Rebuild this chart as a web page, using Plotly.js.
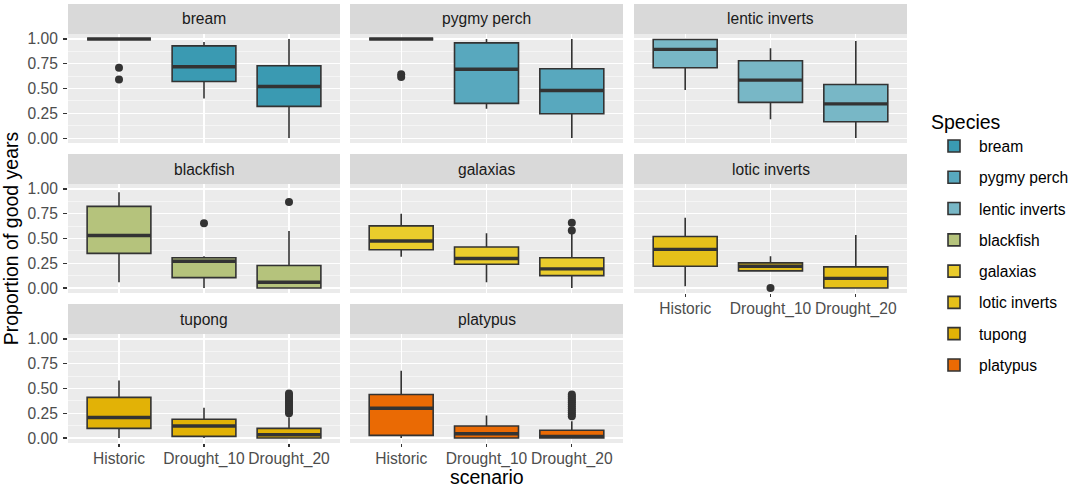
<!DOCTYPE html>
<html>
<head>
<meta charset="utf-8">
<script src="https://cdn.plot.ly/plotly-3.0.1.min.js"></script>
<style>
  html, body { margin: 0; padding: 0; background: #ffffff; }
  #chart { width: 1072px; height: 489px; }
</style>
</head>
<body>
<div id="chart"></div>
<script>
// ---------------- data ----------------
const species = ['bream', 'pygmy perch', 'lentic inverts', 'blackfish', 'galaxias', 'lotic inverts', 'tupong', 'platypus'];
const scenarios = ['Historic', 'Drought_10', 'Drought_20'];
const xTitle = 'scenario';
const yTitle = 'Proportion of good years';
const legendTitle = 'Species';

// box statistics per species, in the order Historic, Drought_10, Drought_20
const lowerWhisker = [
  [1.00, 0.40, 0.00],
  [1.00, 0.295, 0.00],
  [0.485, 0.19, 0.00],
  [0.058, 0.00, 0.00],
  [0.315, 0.058, 0.00],
  [0.017, 0.173, 0.00],
  [0.00, 0.00, 0.00],
  [0.00, 0.00, 0.00]
];
const lowerQuartile = [
  [1.00, 0.57, 0.32],
  [1.00, 0.35, 0.245],
  [0.71, 0.36, 0.165],
  [0.35, 0.105, 0.00],
  [0.386, 0.24, 0.125],
  [0.22, 0.173, 0.00],
  [0.098, 0.017, 0.00],
  [0.027, 0.00, 0.00]
];
const medianValue = [
  [1.00, 0.72, 0.52],
  [1.00, 0.695, 0.48],
  [0.895, 0.585, 0.345],
  [0.53, 0.27, 0.058],
  [0.475, 0.298, 0.193],
  [0.39, 0.22, 0.098],
  [0.207, 0.122, 0.034],
  [0.30, 0.044, 0.017]
];
const upperQuartile = [
  [1.00, 0.93, 0.73],
  [1.00, 0.96, 0.70],
  [0.995, 0.78, 0.54],
  [0.824, 0.305, 0.227],
  [0.627, 0.414, 0.305],
  [0.52, 0.254, 0.214],
  [0.41, 0.19, 0.098],
  [0.44, 0.122, 0.078]
];
const upperWhisker = [
  [1.00, 0.97, 1.00],
  [1.00, 1.00, 1.00],
  [1.00, 0.905, 0.98],
  [0.966, 0.32, 0.576],
  [0.75, 0.553, 0.55],
  [0.71, 0.32, 0.535],
  [0.58, 0.305, 0.21],
  [0.678, 0.227, 0.17]
];

// outlying points per species and scenario
const outliersHistoric = [[0.71, 0.59], [0.645, 0.615], [], [], [], [], [], []];
const outliersDrought10 = [[], [], [], [0.654], [], [0.00], [], []];
const outliersDrought20 = [
  [], [], [], [0.868], [0.66, 0.58], [],
  [0.25, 0.27, 0.29, 0.31, 0.33, 0.35, 0.37, 0.39, 0.41, 0.43, 0.45],
  [0.22, 0.24, 0.26, 0.28, 0.30, 0.32, 0.34, 0.36, 0.38, 0.40, 0.42, 0.44]
];

const yTickValues = [0, 0.25, 0.5, 0.75, 1];

// ---------------- style ----------------
const fills = ['#3A9AB2', '#58A8BE', '#78B7C6', '#B5C37C', '#EACC2C', '#E6C11A', '#E2B206', '#EA6A04'];
const FONT = 'Liberation Sans, Arial, Helvetica, sans-serif';
const W = 1072, H = 489;
const colPx = [[68, 340], [350, 623], [634, 907]];
const rowPx = [[34, 143], [184, 293], [334, 443]];
const stripPx = 30;
const boxWidth = 0.75;

const traces = [];
const layout = {
  width: W, height: H,
  margin: {l: 0, r: 0, t: 0, b: 0, autoexpand: false},
  paper_bgcolor: '#FFFFFF',
  plot_bgcolor: '#EBEBEB',
  font: {family: FONT, color: '#000000'},
  showlegend: true,
  legend: {
    x: 929 / W, y: 1 - 104 / H, xanchor: 'left', yanchor: 'top',
    title: {text: legendTitle, font: {size: 19.5, color: '#000000', family: FONT}, side: 'top'},
    font: {size: 15.6, color: '#000000', family: FONT},
    bgcolor: 'rgba(0,0,0,0)', borderwidth: 0,
    traceorder: 'grouped', tracegroupgap: 8, itemwidth: 40
  },
  shapes: [], annotations: []
};

const outlierSets = [outliersHistoric, outliersDrought10, outliersDrought20];

species.forEach((sp, i) => {
  const n = i + 1;
  const xa = n === 1 ? 'x' : 'x' + n;
  const ya = n === 1 ? 'y' : 'y' + n;
  const row = Math.floor(i / 3), col = i % 3;
  const xs = scenarios.map((_, k) => k);

  traces.push({
    type: 'box', xaxis: xa, yaxis: ya,
    name: sp, legendgroup: sp, showlegend: true,
    x: xs,
    q1: lowerQuartile[i], median: medianValue[i], q3: upperQuartile[i],
    lowerfence: lowerWhisker[i], upperfence: upperWhisker[i],
    width: boxWidth, whiskerwidth: 0, boxpoints: false,
    fillcolor: fills[i],
    line: {color: '#333333', width: 1.6},
    hoverinfo: 'skip'
  });

  // thick median bars
  const mx = [], my = [];
  medianValue[i].forEach((m, k) => {
    mx.push(k - boxWidth / 2, k + boxWidth / 2, null);
    my.push(m, m, null);
  });
  traces.push({
    type: 'scatter', mode: 'lines', xaxis: xa, yaxis: ya,
    x: mx, y: my, showlegend: false, legendgroup: sp,
    line: {color: '#333333', width: 3.4}, hoverinfo: 'skip'
  });

  // outliers
  const ox = [], oy = [];
  outlierSets.forEach((set, k) => {
    set[i].forEach(v => { ox.push(k); oy.push(v); });
  });
  if (ox.length) {
    traces.push({
      type: 'scatter', mode: 'markers', xaxis: xa, yaxis: ya,
      x: ox, y: oy, showlegend: false, legendgroup: sp,
      marker: {color: '#333333', size: 8, line: {width: 0}}, hoverinfo: 'skip'
    });
  }

  const showX = (row === 2) || (row === 1 && col === 2);
  const showY = col === 0;
  const xKey = n === 1 ? 'xaxis' : 'xaxis' + n;
  const yKey = n === 1 ? 'yaxis' : 'yaxis' + n;

  layout[xKey] = {
    domain: [colPx[col][0] / W, colPx[col][1] / W],
    anchor: ya,
    range: [-0.6, 2.6],
    tickmode: 'array', tickvals: xs, ticktext: scenarios,
    showticklabels: showX,
    ticks: showX ? 'outside' : '', ticklen: 3, tickwidth: 1.1, tickcolor: '#333333',
    ticklabelstandoff: -2,
    tickfont: {size: 15.6, color: '#4D4D4D', family: FONT},
    showgrid: true, gridcolor: '#FFFFFF', gridwidth: 1.1,
    zeroline: false, showline: false, fixedrange: true
  };
  layout[yKey] = {
    domain: [1 - rowPx[row][1] / H, 1 - rowPx[row][0] / H],
    anchor: xa,
    range: [-0.05, 1.05],
    tickmode: 'array', tickvals: yTickValues, tickformat: '.2f',
    showticklabels: showY,
    ticks: showY ? 'outside' : '', ticklen: 4, tickwidth: 1.1, tickcolor: '#333333',
    ticklabelstandoff: 2,
    tickfont: {size: 15.6, color: '#4D4D4D', family: FONT},
    showgrid: true, gridcolor: '#FFFFFF', gridwidth: 1.1,
    minor: {dtick: 0.125, tick0: 0.125, showgrid: true, gridcolor: '#FFFFFF', gridwidth: 0.5, ticks: ''},
    zeroline: false, showline: false, fixedrange: true
  };
  if (i === 3) {
    layout[yKey].title = {text: yTitle, font: {size: 19.5, color: '#000000', family: FONT}, standoff: 5};
  }

  // facet strip
  const stripTop = 1 + stripPx / (rowPx[row][1] - rowPx[row][0]);
  layout.shapes.push({
    type: 'rect', xref: xa + ' domain', yref: ya + ' domain',
    x0: 0, x1: 1, y0: 1, y1: stripTop,
    fillcolor: '#D9D9D9', line: {width: 0}
  });
  layout.annotations.push({
    text: sp, xref: xa + ' domain', yref: ya + ' domain',
    x: 0.5, y: (1 + stripTop) / 2, xanchor: 'center', yanchor: 'middle',
    showarrow: false, font: {size: 15.6, color: '#1A1A1A', family: FONT}
  });
});

// shared x-axis title, centred under the middle column
layout.annotations.push({
  text: xTitle, xref: 'x8 domain', yref: 'paper',
  x: 0.5, y: 0, xanchor: 'center', yanchor: 'bottom', yshift: 0,
  borderpad: 0, showarrow: false,
  font: {size: 19.5, color: '#000000', family: FONT}
});

Plotly.newPlot('chart', traces, layout, {staticPlot: true, displayModeBar: false});
</script>
</body>
</html>
